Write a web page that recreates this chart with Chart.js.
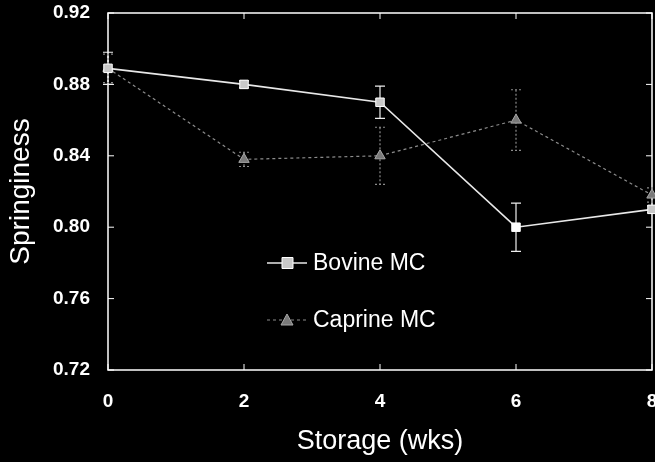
<!DOCTYPE html>
<html>
<head>
<meta charset="utf-8">
<title>Springiness</title>
<script src="https://cdn.jsdelivr.net/npm/chart.js@4.4.0/dist/chart.umd.min.js"></script>
<style>
html, body { margin: 0; padding: 0; background: #000; overflow: hidden; }
#wrap { width: 659px; height: 462px; }
</style>
</head>
<body>
<div id="wrap"><canvas id="springChart" width="659" height="462"></canvas></div>
<script>
// data
var weeks = [0, 2, 4, 6, 8];
var bovine = [0.889, 0.880, 0.870, 0.800, 0.810];
var bovineErr = [0.009, 0.002, 0.009, 0.0135, 0.002];
var caprine = [0.889, 0.838, 0.840, 0.860, 0.818];
var caprineErr = [0.008, 0.004, 0.016, 0.017, 0.004];
var seriesNames = ['Bovine MC', 'Caprine MC'];

function toPoints(xs, ys) {
	return xs.map(function (x, i) { return { x: x, y: ys[i] }; });
}

var FONT = '"Liberation Sans", Arial, sans-serif';

// frame round the plot + inward ticks
var framePlugin = {
	id: 'frame',
	beforeDatasetsDraw: function (chart) {
		var a = chart.chartArea, ctx = chart.ctx;
		ctx.save();
		ctx.strokeStyle = '#fff';
		ctx.lineWidth = 1.5;
		ctx.strokeRect(a.left, a.top, a.right - a.left, a.bottom - a.top);
		ctx.lineWidth = 1;
		chart.scales.y.ticks.forEach(function (t) {
			var py = chart.scales.y.getPixelForValue(t.value);
			ctx.beginPath();
			ctx.moveTo(a.left, py); ctx.lineTo(a.left + 6, py);
			ctx.moveTo(a.right, py); ctx.lineTo(a.right - 6, py);
			ctx.stroke();
		});
		chart.scales.x.ticks.forEach(function (t) {
			var px = chart.scales.x.getPixelForValue(t.value);
			ctx.beginPath();
			ctx.moveTo(px, a.bottom); ctx.lineTo(px, a.bottom - 6);
			ctx.moveTo(px, a.top); ctx.lineTo(px, a.top + 6);
			ctx.stroke();
		});
		ctx.restore();
	}
};

// error bars from the err arrays
var errorBarPlugin = {
	id: 'errorBars',
	beforeDatasetsDraw: function (chart) {
		var ctx = chart.ctx, ys = chart.scales.y, xs = chart.scales.x;
		chart.data.datasets.forEach(function (ds, di) {
			ctx.save();
			ctx.strokeStyle = ds.errColor;
			ctx.lineWidth = 1.2;
			if (ds.errDash) ctx.setLineDash(ds.errDash);
			ds.data.forEach(function (p, i) {
				var e = ds.errors[i];
				var px = xs.getPixelForValue(p.x);
				var top = ys.getPixelForValue(p.y + e);
				var bot = ys.getPixelForValue(p.y - e);
				ctx.beginPath();
				ctx.moveTo(px, top); ctx.lineTo(px, bot);
				ctx.moveTo(px - 5, top); ctx.lineTo(px + 5, top);
				ctx.moveTo(px - 5, bot); ctx.lineTo(px + 5, bot);
				ctx.stroke();
			});
			ctx.restore();
		});
	}
};

// legend sitting inside the plot
var insideLegend = {
	id: 'insideLegend',
	afterDraw: function (chart) {
		var ctx = chart.ctx;
		var rows = [{ y: 263 }, { y: 320 }];
		chart.data.datasets.forEach(function (ds, i) {
			var y = rows[i].y;
			ctx.save();
			ctx.strokeStyle = ds.borderColor;
			ctx.lineWidth = ds.borderWidth;
			if (ds.borderDash) ctx.setLineDash(ds.borderDash);
			ctx.beginPath();
			ctx.moveTo(267, y); ctx.lineTo(307, y);
			ctx.stroke();
			ctx.setLineDash([]);
			ctx.fillStyle = ds.pointBackgroundColor[0];
			ctx.strokeStyle = ds.pointBorderColor;
			ctx.lineWidth = 1;
			ctx.beginPath();
			if (ds.pointStyle === 'rect') {
				ctx.rect(282, y - 5.5, 11, 11);
			} else {
				ctx.moveTo(287, y - 6); ctx.lineTo(293, y + 5); ctx.lineTo(281, y + 5); ctx.closePath();
			}
			ctx.fill(); ctx.stroke();
			ctx.fillStyle = '#fff';
			ctx.font = '23px ' + FONT;
			ctx.textBaseline = 'middle';
			ctx.fillText(ds.label, 313, y + 1);
			ctx.restore();
		});
	}
};

var ctx = document.getElementById('springChart').getContext('2d');
var chart = new Chart(ctx, {
	type: 'line',
	data: {
		datasets: [{
			label: seriesNames[0],
			data: toPoints(weeks, bovine),
			errors: bovineErr,
			errColor: '#eee',
			borderColor: '#e8e8e8',
			borderWidth: 1.6,
			pointStyle: 'rect',
			pointRadius: 6,
			pointBackgroundColor: ['#c8c8c8', '#c8c8c8', '#c8c8c8', '#ffffff', '#c8c8c8'],
			pointBorderColor: '#fff',
			pointBorderWidth: 1,
			tension: 0,
			clip: false
		}, {
			label: seriesNames[1],
			data: toPoints(weeks, caprine),
			errors: caprineErr,
			errColor: '#8a8a8a',
			errDash: [2, 2],
			borderColor: '#8c8c8c',
			borderWidth: 1.2,
			borderDash: [3, 3],
			pointStyle: 'triangle',
			pointRadius: 6,
			pointBackgroundColor: ['#7a7a7a', '#7a7a7a', '#7a7a7a', '#7a7a7a', '#7a7a7a'],
			pointBorderColor: '#a8a8a8',
			pointBorderWidth: 1,
			tension: 0,
			clip: false
		}]
	},
	options: {
		responsive: false,
		animation: false,
		layout: { padding: { top: 13, right: 6, left: 0, bottom: 0 } },
		plugins: {
			legend: { display: false },
			tooltip: { enabled: false }
		},
		scales: {
			x: {
				type: 'linear',
				min: 0,
				max: 8,
				grid: { display: false, drawTicks: false },
				border: { display: false },
				ticks: {
					stepSize: 2,
					color: '#fff',
					padding: 20,
					font: { family: FONT, size: 19, weight: 'bold' }
				},
				title: {
					display: true,
					text: 'Storage (wks)',
					color: '#fff',
					padding: { top: 14 },
					font: { family: FONT, size: 27 }
				},
				afterFit: function (scale) {
					scale.height = 92;
					scale.paddingLeft = 0;
					scale.paddingRight = 0;
				}
			},
			y: {
				min: 0.72,
				max: 0.92,
				grid: { display: false, drawTicks: false },
				border: { display: false },
				ticks: {
					stepSize: 0.04,
					color: '#fff',
					padding: 18,
					font: { family: FONT, size: 19, weight: 'bold' },
					callback: function (v) { return v.toFixed(2); }
				},
				title: {
					display: true,
					text: 'Springiness',
					color: '#fff',
					padding: { bottom: 4 },
					font: { family: FONT, size: 28 }
				},
				afterFit: function (scale) {
					scale.width = 108;
					scale.paddingTop = 0;
					scale.paddingBottom = 0;
				}
			}
		}
	},
	plugins: [framePlugin, errorBarPlugin, insideLegend]
});
</script>
</body>
</html>
